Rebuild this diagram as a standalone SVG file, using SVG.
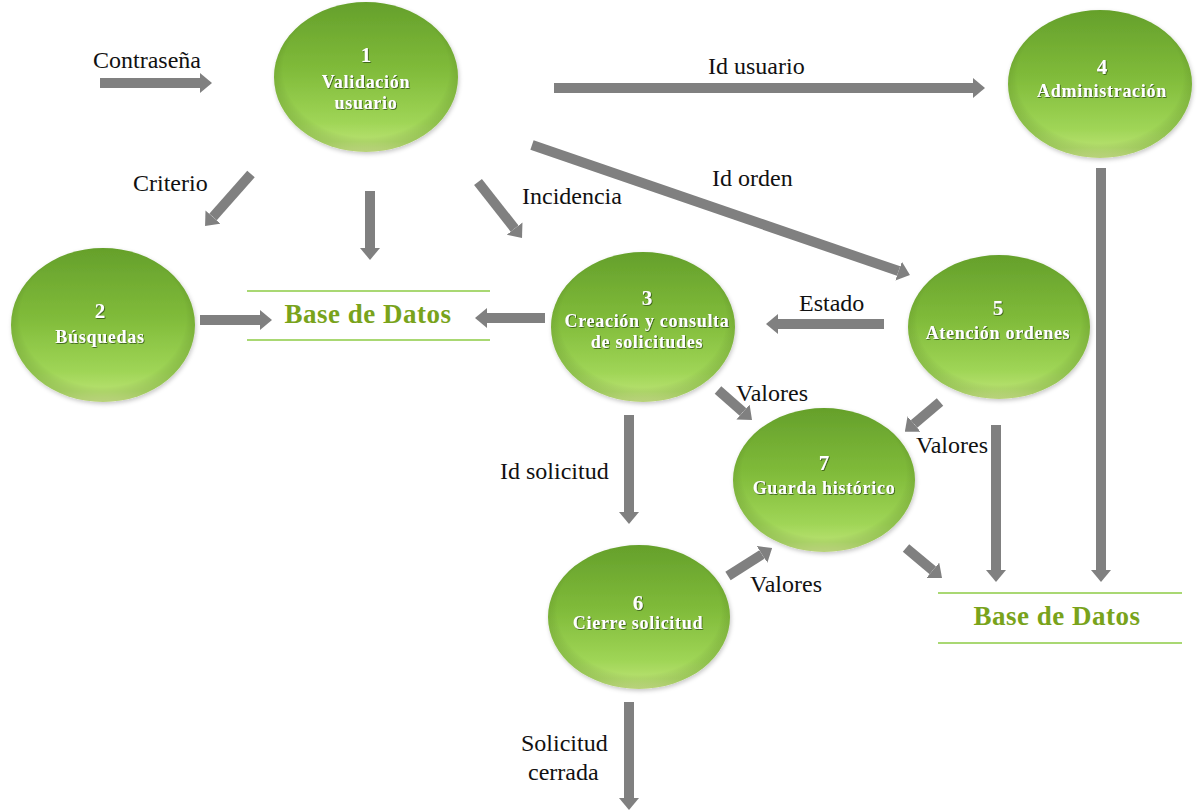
<svg xmlns="http://www.w3.org/2000/svg" width="1197" height="812" viewBox="0 0 1197 812">
  <defs>
    <linearGradient id="bubble" x1="0" y1="0" x2="0" y2="1">
      <stop offset="0" stop-color="#65a02b"/>
      <stop offset="0.45" stop-color="#80bb3a"/>
      <stop offset="0.8" stop-color="#9fd556"/>
      <stop offset="0.93" stop-color="#b6e06e"/>
      <stop offset="1" stop-color="#d8ed95"/>
    </linearGradient>
    <radialGradient id="rim" cx="0.5" cy="0.45" r="0.55">
      <stop offset="0.82" stop-color="#000" stop-opacity="0"/>
      <stop offset="1" stop-color="#3d6a12" stop-opacity="0.2"/>
    </radialGradient>
    <filter id="soft" x="-20%" y="-20%" width="140%" height="140%">
      <feDropShadow dx="1" dy="2" stdDeviation="2" flood-color="#000" flood-opacity="0.22"/>
    </filter>
    <filter id="txtshadow" x="-10%" y="-30%" width="120%" height="160%">
      <feDropShadow dx="0.8" dy="0.8" stdDeviation="0.6" flood-color="#2c4a0c" flood-opacity="0.9"/>
    </filter>
    <marker id="head" viewBox="0 -10 12 20" refX="0" refY="0" markerWidth="12" markerHeight="20" markerUnits="userSpaceOnUse" orient="auto">
      <path d="M0,-10 L12,0 L0,10 z" fill="#808080"/>
    </marker>
    <style>
      text { font-family: "Liberation Serif", "DejaVu Serif", "Times New Roman", serif; }
      .bub { fill: url(#bubble); filter: url(#soft); }
      .shade { fill: url(#rim); }
      .num { font-weight: bold; font-size: 21px; fill: #ffffff; text-anchor: middle; filter: url(#txtshadow); }
      .name { font-weight: bold; font-size: 18px; letter-spacing: 0.7px; fill: #ffffff; text-anchor: middle; filter: url(#txtshadow); }
      .flow { stroke: #808080; stroke-width: 10; fill: none; marker-end: url(#head); }
      .lbl { font-size: 24px; fill: #111111; }
      .store { stroke: #a9d873; stroke-width: 2; }
      .dbtext { font-weight: bold; font-size: 27px; letter-spacing: 0.5px; fill: #79a31b; text-anchor: middle; }
    </style>
  </defs>

  <rect width="1197" height="812" fill="#ffffff"/>

  <!-- data stores -->
  <g id="store-db1">
    <line class="store" x1="247" y1="291" x2="490" y2="291"/>
    <line class="store" x1="247" y1="340" x2="490" y2="340"/>
    <text class="dbtext" x="368" y="323">Base de Datos</text>
  </g>
  <g id="store-db2">
    <line class="store" x1="938" y1="593" x2="1182" y2="593"/>
    <line class="store" x1="938" y1="643" x2="1182" y2="643"/>
    <text class="dbtext" x="1057" y="625">Base de Datos</text>
  </g>

  <!-- processes -->
  <g id="node-1">
    <ellipse class="bub" cx="366" cy="77" rx="92" ry="75"/>
    <ellipse class="shade" cx="366" cy="77" rx="92" ry="75"/>
    <text class="num" x="366" y="62">1</text>
    <text class="name" x="366" y="88">Validación</text>
    <text class="name" x="366" y="109">usuario</text>
  </g>
  <g id="node-2">
    <ellipse class="bub" cx="103" cy="325" rx="92" ry="77"/>
    <ellipse class="shade" cx="103" cy="325" rx="92" ry="77"/>
    <text class="num" x="100" y="318">2</text>
    <text class="name" x="100" y="343">Búsquedas</text>
  </g>
  <g id="node-3">
    <ellipse class="bub" cx="643" cy="327" rx="92" ry="75"/>
    <ellipse class="shade" cx="643" cy="327" rx="92" ry="75"/>
    <text class="num" x="647" y="305">3</text>
    <text class="name" x="647" y="327">Creación y consulta</text>
    <text class="name" x="647" y="348">de solicitudes</text>
  </g>
  <g id="node-4">
    <ellipse class="bub" cx="1100" cy="84" rx="92" ry="74"/>
    <ellipse class="shade" cx="1100" cy="84" rx="92" ry="74"/>
    <text class="num" x="1102" y="74">4</text>
    <text class="name" x="1102" y="97">Administración</text>
  </g>
  <g id="node-5">
    <ellipse class="bub" cx="999" cy="327" rx="91" ry="72"/>
    <ellipse class="shade" cx="999" cy="327" rx="91" ry="72"/>
    <text class="num" x="998" y="315">5</text>
    <text class="name" x="998" y="339">Atención ordenes</text>
  </g>
  <g id="node-6">
    <ellipse class="bub" cx="639" cy="617" rx="91" ry="72"/>
    <ellipse class="shade" cx="639" cy="617" rx="91" ry="72"/>
    <text class="num" x="638" y="610">6</text>
    <text class="name" x="638" y="629">Cierre solicitud</text>
  </g>
  <g id="node-7">
    <ellipse class="bub" cx="824" cy="480" rx="91" ry="72"/>
    <ellipse class="shade" cx="824" cy="480" rx="91" ry="72"/>
    <text class="num" x="824" y="470">7</text>
    <text class="name" x="824" y="494">Guarda histórico</text>
  </g>

  <!-- data flows -->
  <g id="connectors">
    <line class="flow" x1="100" y1="83" x2="200" y2="83"/>
    <line class="flow" x1="554" y1="88" x2="973" y2="88"/>
    <line class="flow" x1="251" y1="174" x2="213" y2="217"/>
    <line class="flow" x1="370" y1="191" x2="370" y2="248"/>
    <line class="flow" x1="478" y1="182" x2="514.6" y2="228.6"/>
    <line class="flow" x1="532" y1="145" x2="898.6" y2="271.1"/>
    <line class="flow" x1="1101" y1="168" x2="1101" y2="570"/>
    <line class="flow" x1="200" y1="320" x2="260" y2="320"/>
    <line class="flow" x1="545" y1="318" x2="487" y2="318"/>
    <line class="flow" x1="884" y1="324" x2="778" y2="324"/>
    <line class="flow" x1="718" y1="390" x2="743" y2="412"/>
    <line class="flow" x1="940" y1="402" x2="914" y2="424"/>
    <line class="flow" x1="996" y1="425" x2="996" y2="570"/>
    <line class="flow" x1="629" y1="415" x2="629" y2="512"/>
    <line class="flow" x1="728" y1="576" x2="762" y2="554.4"/>
    <line class="flow" x1="906" y1="548" x2="932.8" y2="570.3"/>
    <line class="flow" x1="629" y1="702" x2="629" y2="798"/>

    <text class="lbl" x="93" y="68">Contraseña</text>
    <text class="lbl" x="708" y="74">Id usuario</text>
    <text class="lbl" x="133" y="191">Criterio</text>
    <text class="lbl" x="522" y="204">Incidencia</text>
    <text class="lbl" x="712" y="186">Id orden</text>
    <text class="lbl" x="799" y="311">Estado</text>
    <text class="lbl" x="736" y="401">Valores</text>
    <text class="lbl" x="916" y="453">Valores</text>
    <text class="lbl" x="500" y="479">Id solicitud</text>
    <text class="lbl" x="750" y="592">Valores</text>
    <text class="lbl" x="521" y="751">Solicitud</text>
    <text class="lbl" x="528" y="780">cerrada</text>
  </g>
</svg>
